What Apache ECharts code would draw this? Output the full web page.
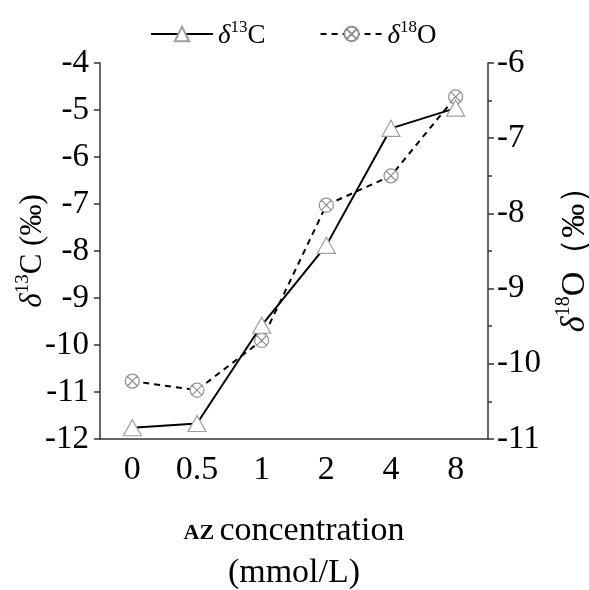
<!DOCTYPE html>
<html><head><meta charset="utf-8">
<script src="https://cdn.jsdelivr.net/npm/echarts@6/dist/echarts.min.js"></script>
<style>html,body{margin:0;padding:0;background:#fff}#c{width:589px;height:590px}</style>
</head><body><div id="c"></div>
<script>
const categories = ['0', '0.5', '1', '2', '4', '8'];
const d13C = [-11.76, -11.67, -9.58, -7.88, -5.39, -4.96];
const d18O = [-10.23, -10.35, -9.69, -7.89, -7.50, -6.45];
const leftTicks = {min: -12, max: -4, interval: 1};
const rightTicks = {min: -11, max: -6, interval: 1};

const FONT = 'Liberation Serif';
const circX = 'path://M0,10A10,10 0 1,1 20,10A10,10 0 1,1 0,10Z M2.93,2.93L17.07,17.07 M17.07,2.93L2.93,17.07';

const chart = echarts.init(document.getElementById('c'));
function supRich(big, small, lh) {
  return {
    d: {fontFamily: FONT, fontStyle: 'italic', fontSize: big, color: '#000', verticalAlign: 'bottom', lineHeight: lh},
    s: {fontFamily: FONT, fontSize: small, color: '#000', verticalAlign: 'top', lineHeight: lh},
    n: {fontFamily: FONT, fontSize: big, color: '#000', verticalAlign: 'bottom', lineHeight: lh}
  };
}
chart.setOption({
  animation: false,
  backgroundColor: '#fff',
  legend: {
    top: 14, left: 145, itemWidth: 62, itemHeight: 18, itemGap: 54,
    textStyle: {rich: supRich(27, 17, 30)},
    formatter: function (n) { return n === 'C' ? '{d|δ}{s|13}{n|C}' : '{d|δ}{s|18}{n|O}'; },
    data: ['C', 'O']
  },
  grid: {left: 100, right: 101, top: 63, bottom: 151, containLabel: false, outerBoundsMode: 'none'},
  xAxis: {
    type: 'category', data: categories, boundaryGap: true,
    axisLine: {lineStyle: {color: '#333', width: 1.5}},
    axisTick: {alignWithLabel: true, inside: false, length: 6, lineStyle: {color: '#333', width: 1.5}},
    axisLabel: {fontFamily: FONT, fontSize: 34, color: '#000', margin: 14},
    name: '{sc|AZ} {t|concentration}\n{t|(mmol/L)}',
    nameLocation: 'middle', nameGap: 71, nameMoveOverlap: false,
    nameTextStyle: {rich: {
      sc: {fontFamily: FONT, fontSize: 22, fontWeight: 'bold', color: '#000', lineHeight: 42, padding: [4, 2, 0, 0]},
      t: {fontFamily: FONT, fontSize: 34, color: '#000', lineHeight: 42}
    }}
  },
  yAxis: [{
    type: 'value', position: 'left', min: leftTicks.min, max: leftTicks.max, interval: leftTicks.interval,
    splitLine: {show: false},
    axisLine: {show: true, lineStyle: {color: '#333', width: 1.5}},
    axisTick: {show: true, length: 6, lineStyle: {color: '#333', width: 1.5}},
    axisLabel: {fontFamily: FONT, fontSize: 33, color: '#000', margin: 11},
    name: '{d|δ}{s|13}{n|C (‰)}', nameLocation: 'middle', nameRotate: 90, nameGap: 52, nameMoveOverlap: false,
    nameTextStyle: {rich: supRich(31, 19, 34)}
  }, {
    type: 'value', position: 'right', min: rightTicks.min, max: rightTicks.max, interval: rightTicks.interval,
    splitLine: {show: false},
    axisLine: {show: true, lineStyle: {color: '#333', width: 1.5}},
    axisTick: {show: true, length: 6, lineStyle: {color: '#333', width: 1.5}},
    minorTick: {show: true, splitNumber: 2, length: 4, lineStyle: {color: '#333', width: 1.5}},
    axisLabel: {fontFamily: FONT, fontSize: 33, color: '#000', margin: 9},
    name: '{d|δ}{s|18}{n|O（‰）}', nameLocation: 'middle', nameRotate: 90, nameGap: 66,
    nameTextStyle: {rich: supRich(34, 20, 38)}
  }],
  series: [{
    name: 'C', type: 'line', yAxisIndex: 0, data: d13C,
    symbol: 'triangle', symbolSize: [18, 16], showAllSymbol: true,
    lineStyle: {color: '#000', width: 2, type: 'solid'},
    itemStyle: {color: '#fff', borderColor: '#a0a0a0', borderWidth: 1.2},
    z: 3
  }, {
    name: 'O', type: 'line', yAxisIndex: 1, data: d18O,
    symbol: circX, symbolSize: 14, showAllSymbol: true,
    lineStyle: {color: '#000', width: 2, type: [6, 5]},
    itemStyle: {color: '#fff', borderColor: '#909090', borderWidth: 1.2},
    z: 2
  }]
});
</script></body></html>
